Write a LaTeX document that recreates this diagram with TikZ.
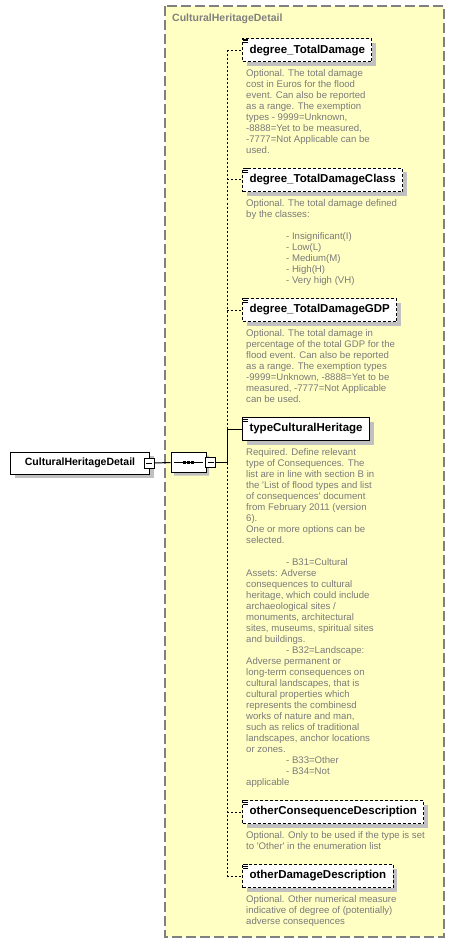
\documentclass[tikz,border=0pt]{standalone}
\usepackage{fontspec}
\setmainfont{Liberation Sans}
\usetikzlibrary{positioning,shadows,shapes.misc}
\definecolor{paper}{HTML}{FFFFC4}
\definecolor{frame}{HTML}{808080}
\definecolor{note}{HTML}{7A7A7A}
\definecolor{shade}{HTML}{C0C0C0}
\tikzset{
  element/.style={
    draw=black,
    line width=1pt,
    fill=white,
    anchor=west,
    minimum height=23pt,
    inner xsep=7pt,
    inner ysep=0pt,
    text=black,
    font=\bfseries\fontsize{11.5}{13}\selectfont,
    drop shadow={shadow xshift=4pt,shadow yshift=-4pt,fill=shade,opacity=1}
  },
  optional/.style={
    element,
    dash pattern=on 3pt off 2pt
  },
  root/.style={
    element,
    minimum width=139pt,
    minimum height=22pt,
    font=\bfseries\fontsize{10.5}{12}\selectfont
  },
  note/.style={
    inner sep=0pt,
    align=left,
    text=note,
    font=\fontsize{9.6}{11}\selectfont
  },
  minusbox/.style={
    draw=black,
    fill=white,
    line width=0.8pt,
    minimum size=10pt,
    inner sep=0pt,
    path picture={\draw[line width=0.8pt] ([xshift=2pt]path picture bounding box.west) -- ([xshift=-2pt]path picture bounding box.east);}
  },
  sequence/.style={
    chamfered rectangle,
    chamfered rectangle xsep=5pt,
    chamfered rectangle ysep=5pt,
    draw=black,
    fill=white,
    line width=1pt,
    minimum width=35pt,
    minimum height=20pt,
    inner sep=0pt,
    drop shadow={shadow xshift=3pt,shadow yshift=-3pt,fill=shade,opacity=1}
  },
  link/.style={
    draw=black,
    line width=1pt
  },
  optlink/.style={
    link,
    dash pattern=on 2pt off 2pt
  },
  group/.style={
    fill=paper,
    draw=frame,
    line width=1.3pt,
    dash pattern=on 10pt off 4pt
  },
  grouptitle/.style={
    anchor=west,
    inner sep=0pt,
    text=frame,
    font=\bfseries\fontsize{10.5}{12}\selectfont
  }
}
\newcommand{\docmark}[1]{%
  \fill[white] ([xshift=1pt,yshift=-0.5pt]#1.north west) rectangle ++(5pt,-4.5pt);
  \foreach \k in {0.6,2.3,4} \draw[line width=0.8pt] ([xshift=1.3pt,yshift=-\k pt]#1.north west) -- ++(4.5pt,0);}
\begin{document}
\begin{tikzpicture}[x=1pt,y=-1pt]
  \useasboundingbox (0,0) rectangle (455,944);
  \draw[group] (165,6) rectangle (444,937);
  \node[grouptitle] (title) at (172,19) {CulturalHeritageDetail};

  \node[root] (root) at (10,463) {CulturalHeritageDetail};
  \node[minusbox] (rootminus) at (149,463) {};
  \node[sequence] (seq) at (188.5,462.5) {};
  \node[minusbox] (seqminus) at (210.5,462.5) {};
  \draw[line width=1pt] ([xshift=-14.5pt]seq.center) -- ([xshift=14.5pt]seq.center);
  \foreach \dx in {-4,0,4}
    \fill ([xshift=\dx pt]seq.center) +(-1.6pt,-1.6pt) rectangle +(1.6pt,1.6pt);
  \coordinate (spine) at (227,462.5);

  \node[optional] (e1) at (242,50.5) {degree\_TotalDamage};
  \node[note, below right=7pt and 4pt of e1.south west] (d1)
    {Optional. The total damage\\cost in Euros for the flood\\event. Can also be reported\\as a range. The exemption\\types - 9999=Unknown,\\-8888=Yet to be measured,\\-7777=Not Applicable can be\\used.};

  \node[optional] (e2) at (242,180) {degree\_TotalDamageClass};
  \node[note, below right=7pt and 4pt of e2.south west] (d2)
    {Optional. The total damage defined\\by the classes:\\[11pt]
     \hspace*{40pt}- Insignificant(I)\\\hspace*{40pt}- Low(L)\\\hspace*{40pt}- Medium(M)\\\hspace*{40pt}- High(H)\\\hspace*{40pt}- Very high (VH)};

  \node[optional] (e3) at (242,310) {degree\_TotalDamageGDP};
  \node[note, below right=7pt and 4pt of e3.south west] (d3)
    {Optional. The total damage in\\percentage of the total GDP for the\\flood event. Can also be reported\\as a range. The exemption types\\-9999=Unknown, -8888=Yet to be\\measured, -7777=Not Applicable\\can be used.};

  \node[element] (e4) at (242,429) {typeCulturalHeritage};
  \node[note, below right=7pt and 4pt of e4.south west] (d4)
    {Required. Define relevant\\type of Consequences. The\\list are in line with section B in\\the \textquotesingle List of flood types and list\\of consequences\textquotesingle\ document\\from February 2011 (version\\6).\\One or more options can be\\selected.\\[11pt]
     \hspace*{40pt}- B31=Cultural\\Assets: Adverse\\consequences to cultural\\heritage, which could include\\archaeological sites /\\monuments, architectural\\sites, museums, spiritual sites\\and buildings.\\
     \hspace*{40pt}- B32=Landscape:\\Adverse permanent or\\long-term consequences on\\cultural landscapes, that is\\cultural properties which\\represents the combinesd\\works of nature and man,\\such as relics of traditional\\landscapes, anchor locations\\or zones.\\
     \hspace*{40pt}- B33=Other\\\hspace*{40pt}- B34=Not\\applicable};

  \node[optional] (e5) at (242,812) {otherConsequenceDescription};
  \node[note, below right=7pt and 4pt of e5.south west] (d5)
    {Optional. Only to be used if the type is set\\to \textquotesingle Other\textquotesingle\ in the enumeration list};

  \node[optional] (e6) at (242,876) {otherDamageDescription};
  \node[note, below right=7pt and 4pt of e6.south west] (d6)
    {Optional. Other numerical measure\\indicative of degree of (potentially)\\adverse consequences};

  \foreach \e in {e1,e2,e3,e4,e5,e6} \docmark{\e};

  \draw[optlink] (e1.west -| spine) -- (e6.west -| spine);
  \foreach \e in {e1,e2,e3,e5,e6}
    \draw[optlink] (\e.west -| spine) -- (\e.west);
  \draw[link] (rootminus.east) -- (seq.west);
  \draw[link] (seqminus.east) -- (spine) |- (e4.west);
\end{tikzpicture}
\end{document}
